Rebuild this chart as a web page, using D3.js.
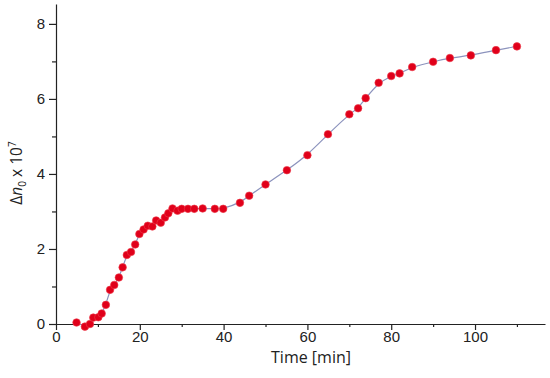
<!DOCTYPE html>
<html><head><meta charset="utf-8">
<script src="https://cdn.jsdelivr.net/npm/d3@7"></script>
<style>body{margin:0;background:#fff}svg{display:block}</style>
</head><body>
<svg id="c" width="550" height="378"></svg>
<script>
const timeMin = [4.9,6.9,8.1,8.9,10.1,10.9,11.9,12.9,13.9,15.0,15.9,16.9,17.9,18.9,19.9,20.9,21.9,23.0,23.9,25.0,26.0,26.8,27.8,29.0,30.0,31.5,33.0,35.0,37.9,39.9,43.9,46.1,50.0,55.1,60.0,64.9,70.0,72.1,73.9,77.0,80.0,82.0,85.0,90.0,94.0,99.0,105.0,110.0];
const deltaN = [0.04,-0.07,0.0,0.17,0.18,0.28,0.51,0.91,1.04,1.24,1.51,1.84,1.92,2.12,2.40,2.52,2.62,2.60,2.76,2.70,2.84,2.95,3.08,3.02,3.07,3.07,3.07,3.08,3.07,3.07,3.23,3.42,3.72,4.10,4.50,5.06,5.59,5.75,6.02,6.43,6.61,6.68,6.85,6.99,7.09,7.16,7.30,7.40];
const xMajor = [0,20,40,60,80,100];
const xMinor = [10,30,50,70,90,110];
const yMajor = [0,2,4,6,8];
const yMinor = [1,3,5,7];

const svg = d3.select("#c");
const x = d3.scaleLinear().domain([0,116.7]).range([56,545]);
const y = d3.scaleLinear().domain([0,8.53]).range([324,4]);
const data = timeMin.map((t,i)=>({t, v: deltaN[i]}));

// axes
const tickFont = "Liberation Sans, Arial, sans-serif";
const gx = svg.append("g").attr("transform","translate(0,324)");
gx.call(d3.axisBottom(x).tickValues(xMajor).tickSize(6).tickSizeOuter(0).tickPadding(1));
gx.append("g").call(d3.axisBottom(x).tickValues(xMinor).tickSize(3).tickSizeOuter(0).tickFormat(""))
  .select(".domain").remove();
const gy = svg.append("g").attr("transform","translate(56,0)");
gy.call(d3.axisLeft(y).tickValues(yMajor).tickSize(7).tickSizeOuter(0).tickPadding(4));
gy.append("g").call(d3.axisLeft(y).tickValues(yMinor).tickSize(4).tickSizeOuter(0).tickFormat(""))
  .select(".domain").remove();
svg.selectAll(".domain, .tick line").attr("stroke","#222").attr("stroke-width",1.2);
svg.selectAll(".tick text").attr("font-family",tickFont).attr("font-size",15).attr("fill","#222");

// line
svg.append("path").datum(data)
  .attr("d", d3.line().x(d=>x(d.t)).y(d=>y(d.v)).curve(d3.curveBasis))
  .attr("fill","none").attr("stroke","#8c93bd").attr("stroke-width",1.2);

// points
svg.append("g").selectAll("circle").data(data).join("circle")
  .attr("cx",d=>x(d.t)).attr("cy",d=>y(d.v)).attr("r",3.8)
  .attr("fill","#e0001a").attr("stroke","#ee3a4a").attr("stroke-width",0.6);

// titles
svg.append("text").attr("x",311).attr("y",363).attr("text-anchor","middle")
  .attr("font-family","Open Sans, sans-serif").attr("font-size",16).attr("fill","#222")
  .text("Time [min]");
const yt = svg.append("text").attr("transform","translate(22,173) rotate(-90)")
  .attr("text-anchor","middle").attr("font-family","Open Sans, sans-serif")
  .attr("font-size",15.5).attr("fill","#222");
yt.append("tspan").text("Δ");
yt.append("tspan").attr("font-style","italic").text("n");
yt.append("tspan").attr("font-size",10).attr("dy",4).text("0");
yt.append("tspan").attr("dy",-4).text(" x 10");
yt.append("tspan").attr("font-size",10).attr("dy",-6).text("7");
</script>
</body></html>
